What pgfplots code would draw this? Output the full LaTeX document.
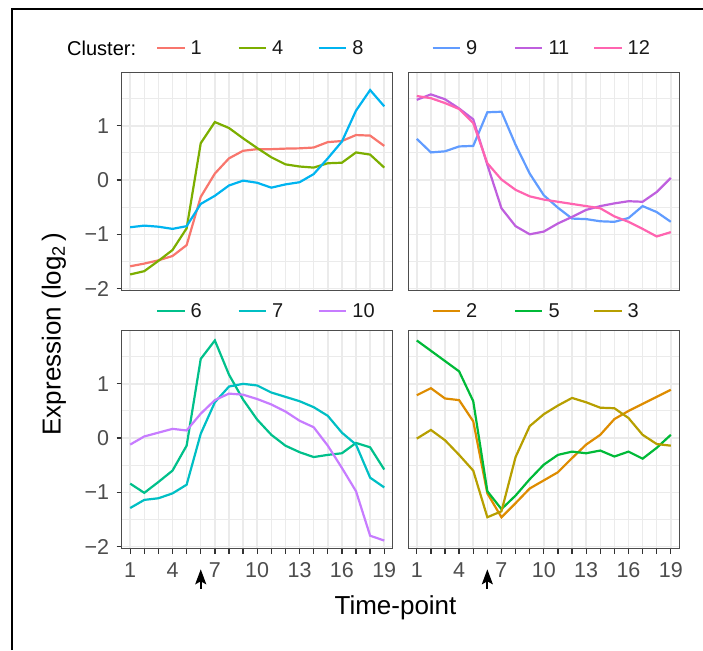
\documentclass[border=0pt]{standalone}
\usepackage{fontspec}
\setmainfont{Liberation Sans}
\usepackage{pgfplots}
\pgfplotsset{compat=1.18}
\usetikzlibrary{arrows.meta}

\definecolor{c1}{HTML}{F8766D}
\definecolor{c2}{HTML}{DE8C00}
\definecolor{c3}{HTML}{B79F00}
\definecolor{c4}{HTML}{7CAE00}
\definecolor{c5}{HTML}{00BA38}
\definecolor{c6}{HTML}{00C08B}
\definecolor{c7}{HTML}{00BFC4}
\definecolor{c8}{HTML}{00B4F0}
\definecolor{c9}{HTML}{619CFF}
\definecolor{c10}{HTML}{C77CFF}
\definecolor{c11}{HTML}{BF5FDE}
\definecolor{c12}{HTML}{FF64B0}
\definecolor{gridc}{HTML}{EBEBEB}
\definecolor{bordc}{HTML}{4D4D4D}
\definecolor{tickc}{HTML}{333333}
\definecolor{labc}{HTML}{4D4D4D}

\pgfplotsset{
  panel/.style={
    scale only axis, width=271pt, height=218pt,
    xmin=0.4, xmax=19.6, ymin=-2.04, ymax=1.98,
    xtick={1,...,19}, ytick={-2,-1,0,1},
    minor ytick={-1.5,-0.5,0.5,1.5},
    xticklabels={1,,,4,,,7,,,10,,,13,,,16,,,19},
    yticklabels={−2,−1,0,1},
    grid=both,
    major grid style={draw=gridc, line width=1.5pt},
    minor grid style={draw=gridc, line width=1pt},
    minor tick length=0pt, major tick length=5pt,
    tick align=outside,
    tick style={draw=tickc, line width=1.3pt},
    xtick pos=left, ytick pos=left,
    axis line style={draw=bordc, line width=1.1pt},
    tick label style={font=\fontsize{21.5}{21.5}\selectfont, text=labc},
    yticklabel style={xshift=-4pt},
    xticklabel style={yshift=-5pt},
    every axis plot/.append style={line width=2.2pt, no markers},
    clip=false,
  },
  notopx/.style={xticklabels={}, xtick style={draw=none}},
  norighty/.style={yticklabels={}, ytick style={draw=none}},
}

\begin{document}
\begin{tikzpicture}
\path[use as bounding box] (0,0) rectangle (703pt,650pt);
\draw[line width=1.2pt] (12pt,0pt) -- (12pt,641pt) -- (703pt,641pt);

% top left: clusters 1, 4, 8
\begin{axis}[panel, notopx, at={(121.7pt,577.3pt)}, anchor=north west]
\addplot[c1] coordinates {(1,-1.59)(2,-1.54)(3,-1.48)(4,-1.40)(5,-1.20)(6,-0.31)(7,0.12)(8,0.40)(9,0.54)(10,0.57)(11,0.57)(12,0.58)(13,0.585)(14,0.60)(15,0.70)(16,0.72)(17,0.83)(18,0.82)(19,0.63)};
\addplot[c4] coordinates {(1,-1.74)(2,-1.68)(3,-1.49)(4,-1.29)(5,-0.89)(6,0.68)(7,1.07)(8,0.96)(9,0.77)(10,0.59)(11,0.42)(12,0.29)(13,0.25)(14,0.23)(15,0.31)(16,0.32)(17,0.51)(18,0.47)(19,0.23)};
\addplot[c8] coordinates {(1,-0.87)(2,-0.84)(3,-0.86)(4,-0.90)(5,-0.85)(6,-0.44)(7,-0.29)(8,-0.10)(9,-0.01)(10,-0.05)(11,-0.14)(12,-0.08)(13,-0.04)(14,0.11)(15,0.40)(16,0.71)(17,1.28)(18,1.66)(19,1.36)};
\end{axis}

% top right: clusters 9, 11, 12
\begin{axis}[panel, notopx, norighty, at={(408.3pt,577.3pt)}, anchor=north west]
\addplot[c9] coordinates {(1,0.76)(2,0.51)(3,0.53)(4,0.62)(5,0.63)(6,1.25)(7,1.26)(8,0.65)(9,0.12)(10,-0.28)(11,-0.51)(12,-0.71)(13,-0.72)(14,-0.76)(15,-0.77)(16,-0.70)(17,-0.48)(18,-0.59)(19,-0.77)};
\addplot[c11] coordinates {(1,1.48)(2,1.58)(3,1.49)(4,1.32)(5,1.12)(6,0.28)(7,-0.52)(8,-0.85)(9,-1.00)(10,-0.95)(11,-0.80)(12,-0.68)(13,-0.55)(14,-0.48)(15,-0.43)(16,-0.39)(17,-0.40)(18,-0.22)(19,0.04)};
\addplot[c12] coordinates {(1,1.55)(2,1.51)(3,1.42)(4,1.31)(5,1.05)(6,0.31)(7,0.01)(8,-0.18)(9,-0.30)(10,-0.36)(11,-0.40)(12,-0.44)(13,-0.48)(14,-0.52)(15,-0.67)(16,-0.77)(17,-0.90)(18,-1.04)(19,-0.96)};
\end{axis}

% bottom left: clusters 6, 7, 10
\begin{axis}[panel, at={(121.7pt,319.3pt)}, anchor=north west]
\addplot[c6] coordinates {(1,-0.84)(2,-1.01)(3,-0.81)(4,-0.60)(5,-0.14)(6,1.46)(7,1.80)(8,1.17)(9,0.71)(10,0.34)(11,0.06)(12,-0.14)(13,-0.26)(14,-0.35)(15,-0.31)(16,-0.28)(17,-0.09)(18,-0.17)(19,-0.58)};
\addplot[c7] coordinates {(1,-1.29)(2,-1.14)(3,-1.11)(4,-1.02)(5,-0.86)(6,0.08)(7,0.66)(8,0.95)(9,1.00)(10,0.97)(11,0.84)(12,0.76)(13,0.68)(14,0.57)(15,0.41)(16,0.10)(17,-0.12)(18,-0.73)(19,-0.91)};
\addplot[c10] coordinates {(1,-0.12)(2,0.03)(3,0.10)(4,0.17)(5,0.14)(6,0.45)(7,0.70)(8,0.82)(9,0.80)(10,0.72)(11,0.62)(12,0.49)(13,0.32)(14,0.20)(15,-0.14)(16,-0.55)(17,-0.98)(18,-1.80)(19,-1.89)};
\draw[-{Stealth[length=15pt,width=11pt,inset=3pt]}, line width=1.8pt, black] (axis cs:6,-2.78) -- (axis cs:6,-2.42);
\end{axis}

% bottom right: clusters 2, 5, 3
\begin{axis}[panel, norighty, at={(408.3pt,319.3pt)}, anchor=north west]
\addplot[c2] coordinates {(1,0.79)(2,0.92)(3,0.73)(4,0.70)(5,0.31)(6,-1.02)(7,-1.46)(8,-1.20)(9,-0.93)(10,-0.78)(11,-0.63)(12,-0.37)(13,-0.12)(14,0.06)(15,0.35)(16,0.50)(17,0.63)(18,0.76)(19,0.89)};
\addplot[c5] coordinates {(1,1.80)(2,1.61)(3,1.42)(4,1.23)(5,0.68)(6,-0.98)(7,-1.31)(8,-1.06)(9,-0.76)(10,-0.49)(11,-0.31)(12,-0.25)(13,-0.28)(14,-0.23)(15,-0.34)(16,-0.25)(17,-0.38)(18,-0.18)(19,0.06)};
\addplot[c3] coordinates {(1,-0.01)(2,0.15)(3,-0.04)(4,-0.31)(5,-0.60)(6,-1.46)(7,-1.35)(8,-0.35)(9,0.22)(10,0.44)(11,0.60)(12,0.74)(13,0.66)(14,0.56)(15,0.55)(16,0.37)(17,0.06)(18,-0.11)(19,-0.14)};
\draw[-{Stealth[length=15pt,width=11pt,inset=3pt]}, line width=1.8pt, black] (axis cs:6,-2.78) -- (axis cs:6,-2.42);
\end{axis}

% legends
\node[anchor=west, font=\fontsize{20}{20}\selectfont, inner sep=0pt] at (67pt,602pt) {Cluster:};
\foreach \x/\c/\t in {157/c1/1, 238.5/c4/4, 318.7/c8/8, 432.5/c9/9, 514.8/c11/11, 594/c12/12}{
  \draw[\c, line width=1.6pt] (\x pt,602pt) -- ++(27.5pt,0);
  \node[anchor=west, font=\fontsize{20}{20}\selectfont, inner sep=0pt, text=black!90] at ({\x pt+33.5pt},602pt) {\t};
}
\foreach \x/\c/\t in {157/c6/6, 238.5/c7/7, 318.7/c10/10, 432.5/c2/2, 514.8/c5/5, 594/c3/3}{
  \draw[\c, line width=1.6pt] (\x pt,339pt) -- ++(27.5pt,0);
  \node[anchor=west, font=\fontsize{20}{20}\selectfont, inner sep=0pt, text=black!90] at ({\x pt+33.5pt},339pt) {\t};
}

% axis titles
\node[font=\fontsize{26}{26}\selectfont] at (395.5pt,42pt) {Time-point};
\node[rotate=90, font=\fontsize{26}{26}\selectfont] at (54pt,316pt) {Expression (log\textsubscript{2}\,)};
\end{tikzpicture}
\end{document}
